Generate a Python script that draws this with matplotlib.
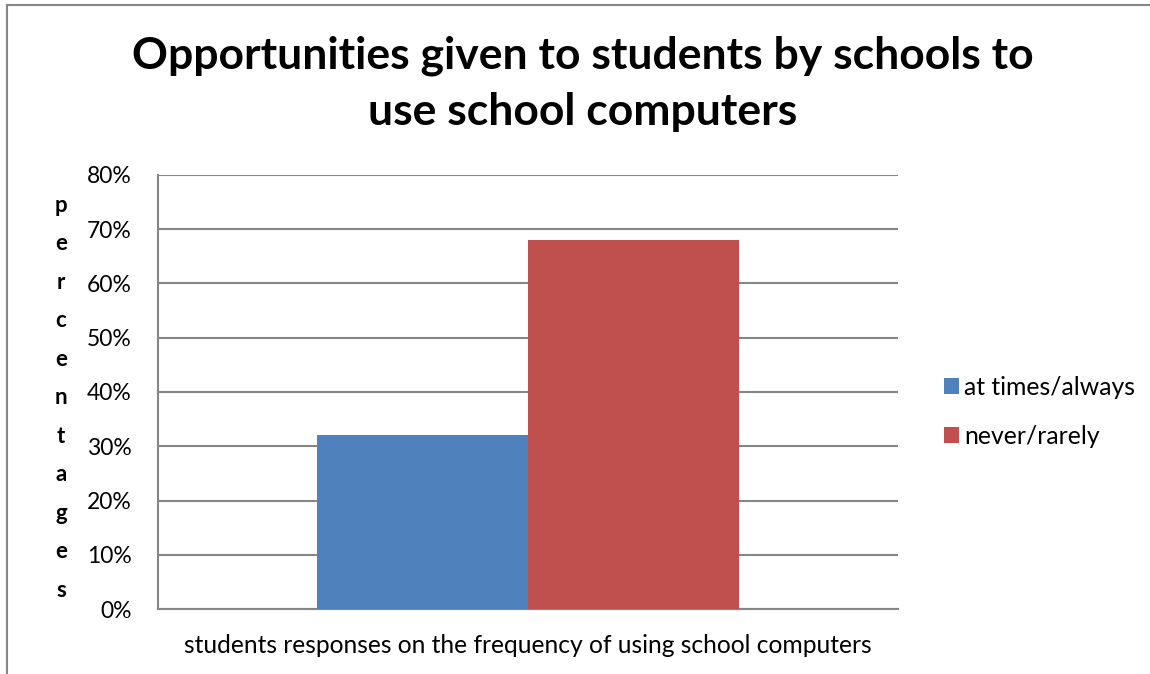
import matplotlib
matplotlib.use("Agg")
import matplotlib.pyplot as plt
from matplotlib.lines import Line2D
from matplotlib.ticker import PercentFormatter

plt.rcParams['font.family'] = ['Lato', 'DejaVu Sans']

title = "Opportunities given to students by schools to\nuse school computers"
xlabel = "students responses on the frequency of using school computers"
ylabel = "percentages"
series = ["at times/always", "never/rarely"]
values = [32, 68]
colors = ["#4f81bd", "#c0504d"]
yticks = [0, 10, 20, 30, 40, 50, 60, 70, 80]

fig = plt.figure(figsize=(11.5, 6.74), dpi=100)
ax = fig.add_axes([0.1374, 0.0964, 0.6435, 0.644])

width = 0.285
offsets = [-width / 2, width / 2]
for name, val, col, off in zip(series, values, colors, offsets):
    ax.bar(off, val, width=width, color=col, label=name, zorder=3)

ax.set_xlim(-0.5, 0.5)
ax.set_ylim(0, 80)
ax.set_yticks(yticks)
ax.yaxis.set_major_formatter(PercentFormatter(decimals=0))
ax.set_xticks([])
ax.tick_params(axis='y', length=0, labelsize=16.5, pad=19)
ax.grid(axis='y', color='#868686', linewidth=1.5, zorder=0)
for side in ['top', 'right']:
    ax.spines[side].set_visible(False)
for side in ['left', 'bottom']:
    ax.spines[side].set_color('#868686')
    ax.spines[side].set_linewidth(1.5)

fig.text(0.507, 0.876, title, ha='center', va='center', fontsize=32,
         fontweight='bold', linespacing=1.47)
fig.text(0.459, 0.043, xlabel, ha='center', va='center', fontsize=17.7)
fig.text(0.053, 0.41, "\n".join(ylabel), ha='center', va='center',
         fontsize=16, fontweight='bold', linespacing=2.03)

fig.legend(loc='center left', bbox_to_anchor=(0.821, 0.389), frameon=False,
           fontsize=17.8, handlelength=0.62, handleheight=0.62,
           handletextpad=0.2, labelspacing=1.05, borderpad=0, borderaxespad=0)

# outer frame: top and left edges only
fig.add_artist(Line2D([0.006, 1.0], [0.993, 0.993], color='#868686', linewidth=1.5))
fig.add_artist(Line2D([0.0065, 0.0065], [0.0, 0.993], color='#868686', linewidth=1.5))

fig.savefig("out.png", dpi=100, facecolor='white')
